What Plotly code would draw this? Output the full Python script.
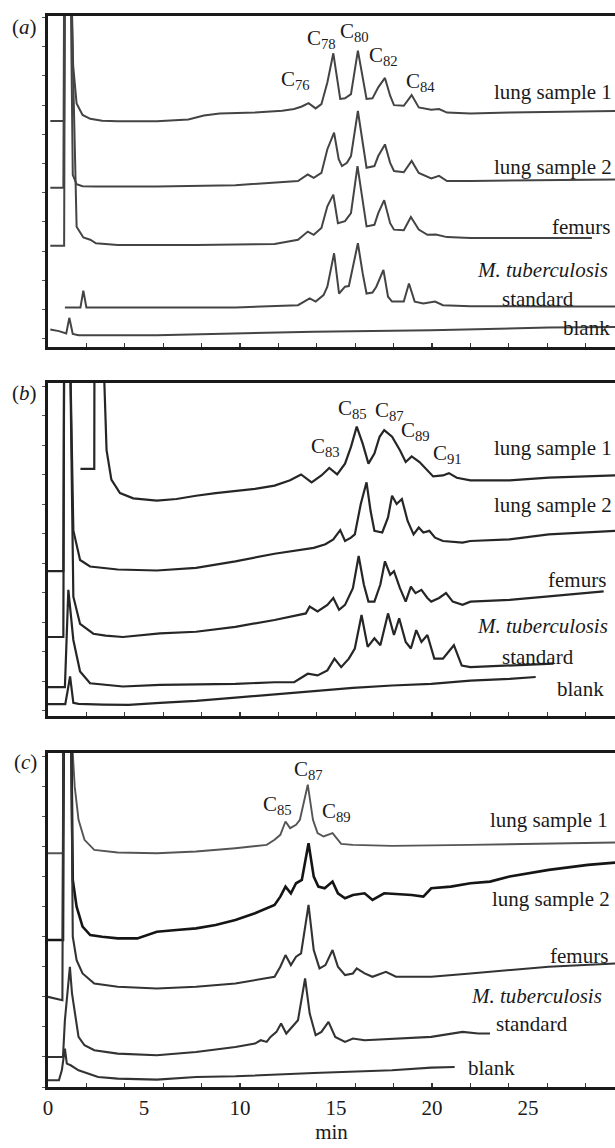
import plotly.graph_objects as go

# ---------------- data (time in min, signal in % of panel height) ----------------
A_LUNG1 = [(0.12,67.1),(0.84,67.1),(0.88,110),(1.22,110),(1.31,84.2),(1.49,72.5),(1.80,69.0),(2.20,67.8),(2.82,67.2),(3.63,67.0),(5.67,67.0),(7.31,67.6),(8.12,68.8),(8.94,69.4),(10.78,69.7),(12.20,70.3),(12.82,70.8),(13.22,71.6),(13.57,72.6),(13.94,71.0),(14.24,72.3),(14.55,79.0),(14.86,88.0),(15.06,80.1),(15.22,73.9),(15.47,74.1),(15.78,75.4),(16.14,88.8),(16.39,80.1),(16.59,73.9),(16.90,74.1),(17.20,77.5),(17.55,80.4),(17.82,74.9),(18.02,72.0),(18.53,71.8),(18.94,75.1),(19.31,71.3),(19.96,70.6),(20.37,70.8),(20.78,69.7),(22.0,69.4),(24.04,69.7),(26.08,69.9),(29.6,70.2)]
A_LUNG2 = [(0.12,46.5),(0.80,46.5),(0.84,110),(1.18,110),(1.29,50.5),(1.49,47.6),(1.80,47.0),(2.5,46.9),(5.67,46.9),(9.76,47.3),(13.02,48.6),(13.53,50.6),(13.84,49.6),(14.24,51.1),(14.55,58.4),(14.90,63.5),(15.14,55.3),(15.31,53.2),(15.57,54.2),(15.78,56.3),(16.14,70.2),(16.39,60.4),(16.59,52.7),(17.0,53.2),(17.2,56.3),(17.55,59.9),(17.82,54.2),(18.02,51.7),(18.53,51.3),(18.94,54.8),(19.31,51.1),(19.96,49.4),(20.37,50.2),(20.78,48.6),(22.0,48.6),(29.6,49.1)]
A_FEMURS = [(0.12,28.6),(0.84,28.6),(0.88,110),(1.20,110),(1.49,34.5),(1.84,31.2),(2.2,30.5),(2.5,29.4),(3.63,28.9),(7.71,28.9),(11.8,29.2),(13.02,30.5),(13.53,33.0),(13.84,32.0),(14.24,34.1),(14.55,40.8),(14.86,44.4),(15.10,35.6),(15.47,36.2),(15.78,38.7),(16.12,53.2),(16.39,42.9),(16.59,34.6),(17.0,35.1),(17.2,38.7),(17.51,42.7),(17.82,35.6),(18.02,33.6),(18.53,33.4),(18.90,37.5),(19.31,33.6),(19.76,32.0),(20.2,32.1),(20.78,31.3),(22.0,31.0),(28.33,31.0)]
A_STD = [(0.88,9.6),(1.69,9.6),(1.84,14.8),(2.0,9.6),(3.63,9.6),(9.76,9.6),(13.02,10.3),(13.63,12.4),(13.94,11.4),(14.35,13.4),(14.55,16.0),(14.90,26.3),(15.16,13.9),(15.47,16.0),(15.67,16.2),(16.14,29.4),(16.39,20.1),(16.59,13.9),(16.90,14.2),(17.10,16.0),(17.47,21.2),(17.71,12.9),(17.92,11.4),(18.53,11.4),(18.80,17.0),(19.10,11.4),(19.55,10.8),(20.16,11.4),(20.57,10.3),(22.0,10.0),(26.0,9.9),(29.6,9.9)]
A_BLANK = [(0.12,2.8),(0.57,2.3),(0.95,1.6),(1.11,6.4),(1.29,1.4),(1.59,1.0),(5.67,1.0),(13.84,2.1),(19.96,2.6),(26.08,3.4),(29.6,3.6)]

B_LUNG1 = [(1.69,73.8),(2.41,73.8),(2.42,110),(2.88,110),(3.05,79.5),(3.30,70.5),(3.75,66.4),(4.44,64.8),(5.67,64.1),(6.69,64.6),(7.71,65.6),(8.73,66.4),(10.78,67.7),(11.8,68.7),(12.61,70.3),(13.18,72.1),(13.73,69.7),(14.24,71.8),(14.65,74.1),(15.06,72.1),(15.47,75.4),(15.78,80.5),(16.08,86.7),(16.39,81.5),(16.69,75.4),(17.0,78.5),(17.27,83.6),(17.51,85.6),(17.92,83.6),(18.33,79.5),(18.63,75.9),(18.94,77.6),(19.35,75.9),(19.76,73.3),(20.06,71.5),(20.57,71.8),(20.88,72.5),(21.29,71.1),(22.0,70.3),(24.04,70.3),(26.08,71.1),(29.6,71.8)]
B_LUNG2 = [(0.0,42.6),(0.80,42.6),(0.84,110),(1.15,110),(1.32,55.0),(1.67,46.0),(2.19,44.0),(3.0,43.5),(3.63,43.1),(5.67,42.8),(7.71,43.6),(9.76,45.6),(11.8,47.9),(13.84,49.7),(14.45,50.8),(14.86,52.3),(15.22,55.1),(15.47,51.8),(15.78,52.8),(15.98,53.8),(16.29,63.1),(16.59,69.7),(16.80,61.0),(17.0,54.9),(17.41,54.4),(17.71,59.0),(17.92,65.6),(18.16,63.1),(18.43,64.6),(18.73,57.9),(19.04,53.8),(19.31,55.9),(19.55,54.4),(19.86,54.9),(20.16,52.8),(20.57,51.8),(21.59,51.3),(22.0,51.8),(24.04,52.3),(26.08,53.8),(29.6,54.9)]
B_FEMURS = [(0.0,22.5),(0.80,22.5),(0.84,110),(1.15,110),(1.32,34.8),(1.67,26.5),(2.36,23.5),(3.0,22.9),(3.9,22.5),(5.83,23.6),(7.71,24.1),(9.76,25.6),(11.8,27.7),(13.43,29.7),(13.63,31.8),(14.04,30.3),(14.55,32.3),(14.86,34.4),(15.16,30.8),(15.47,32.3),(15.88,37.4),(16.18,47.2),(16.45,38.5),(16.69,33.3),(17.0,33.3),(17.31,38.5),(17.55,45.6),(17.82,41.5),(18.02,42.6),(18.33,37.4),(18.63,33.3),(18.9,37.9),(19.14,35.9),(19.45,36.9),(19.76,34.4),(19.96,33.3),(20.37,34.4),(20.73,35.9),(21.08,33.3),(21.59,32.3),(22.0,33.3),(24.04,33.8),(26.08,34.9),(28.94,36.4)]
B_STD = [(0.0,7.2),(0.88,7.2),(1.06,36.9),(1.32,21.6),(1.67,12.0),(2.19,8.4),(3.9,7.4),(5.83,7.9),(9.76,8.2),(11.8,8.7),(12.82,8.7),(13.53,11.3),(14.04,10.8),(14.55,12.3),(14.92,15.9),(15.27,13.3),(15.67,15.9),(15.98,19.0),(16.33,29.2),(16.65,19.5),(17.0,22.1),(17.31,20.0),(17.71,29.7),(18.02,23.1),(18.29,28.2),(18.63,21.0),(18.9,19.0),(19.18,24.6),(19.45,21.0),(19.76,23.1),(20.12,15.9),(20.57,15.9),(21.14,20.0),(21.55,13.8),(22.0,13.3),(24.04,13.8),(26.33,14.4)]
B_BLANK = [(0.0,2.0),(0.90,2.0),(1.02,6.0),(1.15,10.5),(1.32,2.4),(1.59,2.1),(2.88,1.9),(4.2,1.8),(5.83,2.4),(7.71,3.0),(9.76,4.0),(11.8,5.0),(13.84,6.0),(15.88,7.0),(17.92,7.7),(19.96,8.2),(22.0,9.2),(24.04,9.7),(25.4,10.3)]

C_LUNG1 = [(0.0,70.0),(0.78,70.0),(0.82,110),(1.2,110),(1.29,100),(1.39,90),(1.59,80),(1.90,74),(2.41,71),(3.63,70.2),(5.67,70.0),(7.71,70.5),(9.76,71.5),(11.39,72.5),(11.8,74.0),(12.1,75.5),(12.37,79.5),(12.61,77.5),(12.92,78.5),(13.12,80),(13.53,90.5),(13.8,80),(14.04,76),(14.35,75),(14.82,76),(15.27,72.8),(15.88,72.5),(17.92,72.2),(22.0,72.5),(26.08,72.8),(29.6,73.2)]
C_LUNG2 = [(0.0,44),(0.78,44),(0.82,110),(1.2,110),(1.29,62),(1.49,54),(1.8,48),(2.2,45.5),(2.82,45),(3.63,44.5),(4.65,44.5),(5.67,46.5),(6.69,47),(7.71,47.5),(8.73,48.5),(9.76,50),(10.78,52),(11.8,54.5),(12.1,57),(12.37,60),(12.65,58),(12.92,61),(13.22,62),(13.57,73),(13.84,63),(14.08,60),(14.41,59.5),(14.82,61.5),(15.1,58),(15.47,56.5),(15.88,57.5),(16.49,58),(16.9,56),(17.51,58),(18.94,57.5),(19.55,57),(19.96,59.5),(20.98,60),(22.0,61),(23.02,61.5),(24.04,63),(26.08,65),(28.12,66.5),(29.6,67.2)]
C_FEMURS = [(0.0,27),(0.75,26),(0.80,110),(1.2,110),(1.29,45),(1.49,38),(1.8,34),(2.41,31),(3.63,30),(5.67,29.5),(7.71,30),(9.76,31),(11.8,33),(12.1,36),(12.37,39.5),(12.65,36.5),(12.92,39),(13.18,40),(13.57,54.5),(13.84,41),(14.14,35.5),(14.45,36.5),(14.82,41),(15.1,36),(15.47,33.5),(15.88,34),(16.08,35.5),(16.49,34),(16.9,33),(17.6,34.5),(18.12,33),(19.96,33),(22.0,34),(24.04,35),(26.08,36),(29.6,37)]
C_STD = [(0.0,9),(0.78,9),(0.88,20),(1.14,36),(1.25,28),(1.39,22),(1.59,15),(1.9,12.5),(2.41,11),(3.63,10),(5.67,9.5),(7.71,10.5),(9.76,12),(10.78,13),(11.08,14),(11.39,13.5),(11.59,15),(11.9,16.5),(12.14,19),(12.41,16),(12.71,18),(13.02,20),(13.39,32.5),(13.63,22),(13.94,15.5),(14.24,16.5),(14.61,19.5),(14.96,15),(15.47,13.5),(15.88,14.5),(16.49,14),(17.92,14.5),(19.96,15),(21.59,16.5),(22.41,16),(23.02,16)]
C_BLANK = [(0.0,2),(0.57,2),(0.72,5),(0.88,11.5),(0.98,7),(1.18,6.5),(1.59,5),(2.61,3),(3.63,2.5),(5.67,2.2),(7.71,3),(9.76,3.2),(13.84,4.2),(17.92,5),(19.96,5.8),(21.18,6)]

X_TICKS = [0, 5, 10, 15, 20, 25]
X_TICK_TEXT = ["0", "5", "10", "15", "20", "25"]

PANELS = [
    ("a", [A_LUNG1, A_LUNG2, A_FEMURS, A_STD, A_BLANK]),
    ("b", [B_LUNG1, B_LUNG2, B_FEMURS, B_STD, B_BLANK]),
    ("c", [C_LUNG1, C_LUNG2, C_FEMURS, C_STD, C_BLANK]),
]
TRACE_NAMES = ["lung sample 1", "lung sample 2", "femurs", "M. tuberculosis standard", "blank"]

# ---------------- layout geometry (pixels) ----------------
W, H = 615, 1148
ML, MR, MT, MB = 48, 0, 16, 61
PW = W - ML - MR
PH = H - MT - MB
PANEL_PX = [(16, 347), (383, 716), (753, 1087)]
PANEL_YRANGE = [[-2.6, 99.5], [-1.6, 100], [0, 100]]
XMAX = PW / 19.2

def dom(top, bot):
    return [(H - MB - bot) / PH, (H - MB - top) / PH]

def ppx(x, y):
    return (x - ML) / PW, (H - MB - y) / PH

FONT = "Liberation Serif"
FS = 21
LINE_COLORS = {
    "a": ["#444444"] * 5,
    "b": ["#262626"] * 5,
    "c": ["#555555", "#151515", "#333333", "#333333", "#333333"],
}
LINE_WIDTHS = {
    "a": [2.0] * 5,
    "b": [2.2] * 5,
    "c": [1.9, 2.6, 2.1, 2.1, 2.1],
}

fig = go.Figure()
for i, (tag, series) in enumerate(PANELS):
    xa = "x" if i == 0 else f"x{i+1}"
    ya = "y" if i == 0 else f"y{i+1}"
    for j, s in enumerate(series):
        t = [p[0] for p in s]
        v = [p[1] for p in s]
        xref = xa
        if tag == "c" and j == 4:
            xref = "x4"
        fig.add_trace(go.Scatter(
            x=t, y=v, mode="lines", name=TRACE_NAMES[j], xaxis=xref, yaxis=ya,
            line=dict(color=LINE_COLORS[tag][j], width=LINE_WIDTHS[tag][j], shape="linear"),
            showlegend=False, hoverinfo="skip"))

axis_line = dict(showline=True, linecolor="#1a1a1a", linewidth=2.8, showgrid=False, zeroline=False)
layout = dict(
    width=W, height=H, margin=dict(l=ML, r=MR, t=MT, b=MB),
    paper_bgcolor="white", plot_bgcolor="white",
    font=dict(family=FONT, size=FS, color="#1a1a1a"),
    showlegend=False,
)
for i, (top, bot) in enumerate(PANEL_PX):
    k = "" if i == 0 else str(i + 1)
    xa = dict(axis_line, range=[0, XMAX], domain=[0, 1], anchor=f"y{k}", mirror=True,
              fixedrange=True)
    if i < 2:
        xa.update(ticks="inside", tick0=0, dtick=2, ticklen=4, tickwidth=1.2, tickcolor="#333",
                  showticklabels=False)
    else:
        xa.update(ticks="", tickvals=X_TICKS, ticktext=X_TICK_TEXT, showticklabels=True,
                  tickfont=dict(family=FONT, size=FS, color="#1a1a1a"),
                  title=dict(text="min", font=dict(family=FONT, size=FS, color="#1a1a1a"), standoff=2))
    layout[f"xaxis{k}"] = xa
    layout[f"yaxis{k}"] = dict(axis_line, range=PANEL_YRANGE[i], domain=dom(top, bot), anchor=f"x{k}",
                               ticks="outside", tick0=0, dtick=9, ticklen=3, tickwidth=1,
                               tickcolor="#555", showticklabels=False, fixedrange=True)
layout["xaxis4"] = dict(range=[0, XMAX], overlaying="x3", anchor="y3", side="bottom",
                        showline=False, showgrid=False, zeroline=False,
                        ticks="inside", tick0=0, dtick=2, ticklen=4, tickwidth=1.2, tickcolor="#333",
                        showticklabels=False, fixedrange=True)
fig.update_layout(**layout)

# ---------------- annotations ----------------
def sub(n):
    return f"C<sub>{n}</sub>"

ANN = [
    ("(<i>a</i>)", 24, 27, "center"), ("(<i>b</i>)", 24, 393, "center"), ("(<i>c</i>)", 25, 762, "center"),
    (sub(76), 295, 80, "center"), (sub(78), 321, 39, "center"), (sub(80), 354, 32, "center"),
    (sub(82), 383, 56, "center"), (sub(84), 420, 82, "center"),
    ("lung sample 1", 614, 92, "right"), ("lung sample 2", 614, 167, "right"), ("femurs", 612, 227, "right"),
    ("<i>M. tuberculosis</i>", 610, 270, "right"), ("standard", 538, 299, "center"), ("blank", 612, 328, "right"),
    (sub(83), 325, 447, "center"), (sub(85), 352, 409, "center"), (sub(87), 389, 411, "center"),
    (sub(89), 415, 431, "center"), (sub(91), 447, 454, "center"),
    ("lung sample 1", 614, 448, "right"), ("lung sample 2", 614, 505, "right"), ("femurs", 608, 580, "right"),
    ("<i>M. tuberculosis</i>", 610, 626, "right"), ("standard", 538, 657, "center"), ("blank", 606, 689, "right"),
    (sub(85), 277, 805, "center"), (sub(87), 308, 770, "center"), (sub(89), 336, 812, "center"),
    ("lung sample 1", 610, 820, "right"), ("lung sample 2", 612, 899, "right"), ("femurs", 610, 956, "right"),
    ("<i>M. tuberculosis</i>", 604, 996, "right"), ("standard", 532, 1024, "center"), ("blank", 491, 1068, "center"),
]
for text, xpx, ypx, xanc in ANN:
    xp, yp = ppx(xpx, ypx)
    fig.add_annotation(text=text, x=xp, y=yp, xref="paper", yref="paper", xanchor=xanc, yanchor="middle",
                       showarrow=False, font=dict(family=FONT, size=FS, color="#1a1a1a"))

fig.write_html("out.html", config={"displayModeBar": False, "staticPlot": True},
               post_script="document.body.style.margin='0';document.body.style.overflow='hidden';")
